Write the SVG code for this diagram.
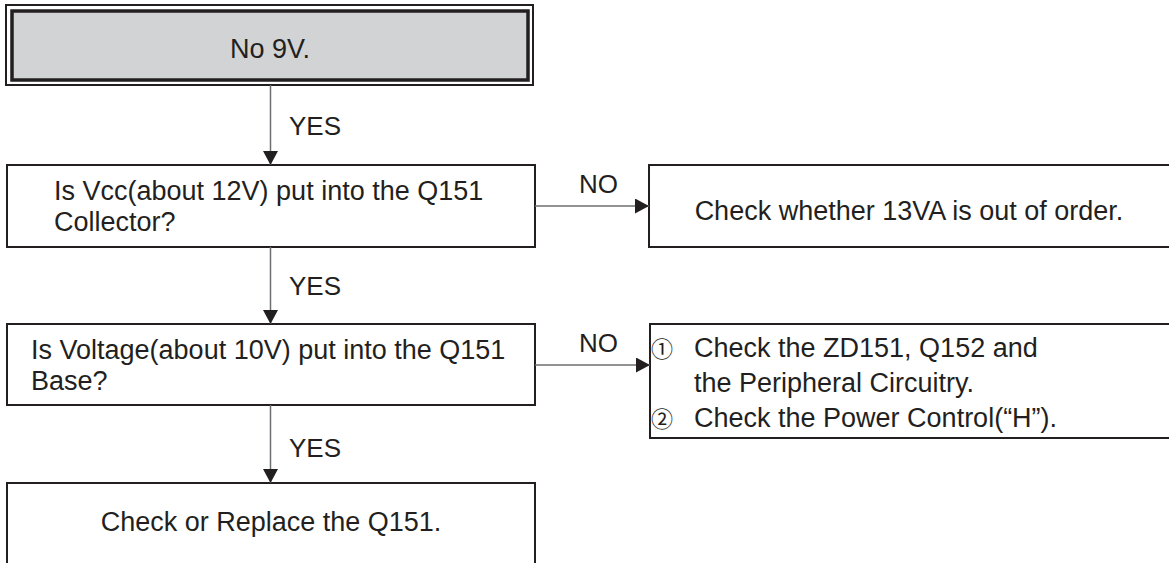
<svg xmlns="http://www.w3.org/2000/svg" width="1169" height="563" viewBox="0 0 1169 563">
  <style>
    .box { fill: #ffffff; stroke: #231f20; stroke-width: 2; }
    .start-outer { fill: none; stroke: #231f20; stroke-width: 2; }
    .start-inner { fill: #d1d3d4; stroke: #231f20; stroke-width: 3.5; }
    .txt { font-family: "Liberation Sans", Arial, sans-serif; font-size: 27px; fill: #231f20; }
    .lbl { font-family: "Liberation Sans", Arial, sans-serif; font-size: 26px; fill: #231f20; }
    .mid { text-anchor: middle; }
    .num { font-family: "Noto Sans CJK JP", "DejaVu Sans", sans-serif; font-size: 22px; fill: #231f20; }
    .link { stroke: #6d6e71; stroke-width: 1.5; fill: none; marker-end: url(#ah); }
  </style>
  <defs>
    <marker id="ah" markerWidth="14" markerHeight="15" refX="14" refY="7.5" orient="auto" markerUnits="userSpaceOnUse">
      <path d="M0,0 L14,7.5 L0,15 Z" fill="#231f20"/>
    </marker>
  </defs>
  <rect width="1169" height="563" fill="#ffffff"/>

  <!-- start node -->
  <g id="start">
    <rect class="start-outer" x="6" y="5" width="527" height="80"/>
    <rect class="start-inner" x="12" y="11" width="516" height="69"/>
    <text class="txt mid" x="270" y="58">No 9V.</text>
  </g>

  <!-- decision: collector supply -->
  <g id="q-vcc">
    <rect class="box" x="7" y="165" width="528" height="82"/>
    <text class="txt" x="54" y="199.5">Is Vcc(about 12V) put into the Q151</text>
    <text class="txt" x="54" y="230.5">Collector?</text>
  </g>

  <g id="r-13va">
    <rect class="box" x="649" y="165" width="530" height="82"/>
    <text class="txt mid" x="909" y="220">Check whether 13VA is out of order.</text>
  </g>

  <!-- decision: base voltage -->
  <g id="q-base">
    <rect class="box" x="7" y="324" width="528" height="81"/>
    <text class="txt" x="31" y="358.5">Is Voltage(about 10V) put into the Q151</text>
    <text class="txt" x="31" y="389.5">Base?</text>
  </g>

  <g id="r-zd151">
    <rect class="box" x="650" y="324" width="529" height="114"/>
    <text class="num" x="651" y="357">①</text>
    <text class="txt" x="694" y="357">Check the ZD151, Q152 and</text>
    <text class="txt" x="694" y="392">the Peripheral Circuitry.</text>
    <text class="num" x="651" y="427">②</text>
    <text class="txt" x="694" y="427">Check the Power Control(“H”).</text>
  </g>

  <!-- final action -->
  <g id="replace">
    <rect class="box" x="7" y="483" width="528" height="100"/>
    <text class="txt mid" x="271" y="531">Check or Replace the Q151.</text>
  </g>

  <!-- connectors -->
  <g id="connectors">
    <line class="link" x1="270.5" y1="85" x2="270.5" y2="165"/>
    <line class="link" x1="270.5" y1="247" x2="270.5" y2="324"/>
    <line class="link" x1="270.5" y1="405" x2="270.5" y2="483"/>
    <line class="link" x1="535" y1="206" x2="649" y2="206"/>
    <line class="link" x1="535" y1="365" x2="650" y2="365"/>
    <text class="lbl" x="289" y="135">YES</text>
    <text class="lbl" x="289" y="295">YES</text>
    <text class="lbl" x="289" y="457">YES</text>
    <text class="lbl" x="579" y="193">NO</text>
    <text class="lbl" x="579" y="352">NO</text>
  </g>
</svg>
